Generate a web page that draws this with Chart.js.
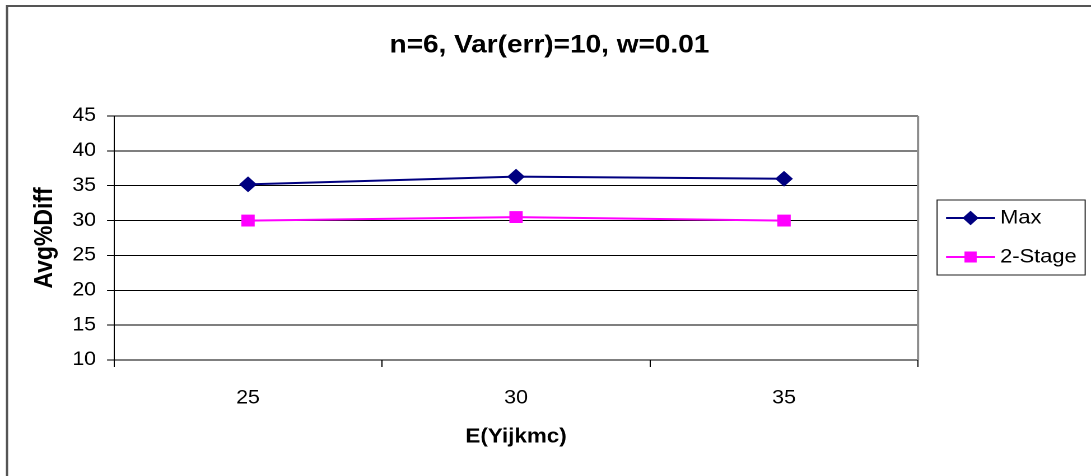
<!DOCTYPE html>
<html>
<head>
<meta charset="utf-8">
<script src="https://cdn.jsdelivr.net/npm/chart.js@4/dist/chart.umd.min.js"></script>
<style>
  html, body { margin: 0; padding: 0; background: #fff; overflow: hidden; }
  #wrap { width: 1091px; height: 476px; overflow: hidden; }
  /* the chart is drawn on a slightly narrower canvas and widened to the page width */
  #c { display: block; transform: scaleX(1.1201); transform-origin: 0 0; }
</style>
</head>
<body>
<div id="wrap"><canvas id="c" width="974" height="476"></canvas></div>
<script>
// Average % difference by E(Yijkmc)
const categories = ['25', '30', '35'];
const maxValues = [35.2, 36.3, 36.0];
const twoStageValues = [30.0, 30.5, 30.0];
const seriesNames = ['Max', '2-Stage'];
const yTicks = [10, 15, 20, 25, 30, 35, 40, 45];

const FONT = 'Liberation Sans, Arial, sans-serif';

// White background, outer frame and the grey right edge of the plot area
const framePlugin = {
  id: 'frame',
  beforeDraw(chart) {
    const { ctx, width, height } = chart;
    ctx.save();
    ctx.fillStyle = '#ffffff';
    ctx.fillRect(0, 0, width, height);
    ctx.strokeStyle = '#555555';
    ctx.lineWidth = 2;
    ctx.strokeRect(6.25, 6, width + 20, height + 20);
    ctx.restore();
  },
  beforeDatasetsDraw(chart) {
    const { ctx, chartArea } = chart;
    ctx.save();
    ctx.strokeStyle = '#8c8c8c';
    ctx.lineWidth = 2;
    ctx.beginPath();
    ctx.moveTo(chartArea.right, chartArea.top);
    ctx.lineTo(chartArea.right, chartArea.bottom);
    ctx.stroke();
    ctx.restore();
  }
};

// Boxed legend with a line-and-marker sample for each series
const boxLegendPlugin = {
  id: 'boxLegend',
  afterDraw(chart) {
    const { ctx, chartArea } = chart;
    const left = chartArea.right + 17;
    const top = 200, w = 132.2, h = 75, rowGap = 39;
    ctx.save();
    ctx.strokeStyle = '#222222';
    ctx.lineWidth = 1;
    ctx.strokeRect(left, top, w, h);
    chart.data.datasets.forEach((ds, i) => {
      const y = top + 18 + i * rowGap;
      const x0 = left + 8, x1 = left + 51.8;
      ctx.strokeStyle = ds.borderColor;
      ctx.lineWidth = 2;
      ctx.beginPath();
      ctx.moveTo(x0, y);
      ctx.lineTo(x1, y);
      ctx.stroke();
      ctx.fillStyle = ds.pointBackgroundColor;
      ctx.strokeStyle = ds.borderColor;
      ctx.lineWidth = 1;
      Chart.helpers.drawPoint(ctx, {
        pointStyle: ds.pointStyle,
        radius: ds.pointRadius,
        rotation: 0,
        borderWidth: 1
      }, (x0 + x1) / 2, y);
      ctx.fillStyle = '#000000';
      ctx.font = '19.5px ' + FONT;
      ctx.textBaseline = 'middle';
      ctx.textAlign = 'left';
      ctx.fillText(ds.label, left + 56.3, y);
    });
    ctx.restore();
  }
};

new Chart(document.getElementById('c'), {
  type: 'line',
  data: {
    labels: categories,
    datasets: [
      {
        label: seriesNames[0],
        data: maxValues,
        borderColor: '#000080',
        backgroundColor: '#000080',
        pointBackgroundColor: '#000080',
        pointBorderColor: '#000080',
        pointStyle: 'rectRot',
        pointRadius: 6.5,
        borderWidth: 2,
        tension: 0
      },
      {
        label: seriesNames[1],
        data: twoStageValues,
        borderColor: '#ff00ff',
        backgroundColor: '#ff00ff',
        pointBackgroundColor: '#ff00ff',
        pointBorderColor: '#ff00ff',
        pointStyle: 'rect',
        pointRadius: 7,
        borderWidth: 2,
        tension: 0
      }
    ]
  },
  options: {
    responsive: false,
    animation: false,
    devicePixelRatio: 2,
    layout: { padding: { left: 7, right: 0, top: 0, bottom: 0 } },
    plugins: {
      legend: { display: false },
      tooltip: { enabled: false },
      title: {
        display: true,
        text: 'n=6, Var(err)=10, w=0.01',
        color: '#000',
        font: { family: FONT, size: 25, weight: 'bold' },
        padding: { top: 30.5, bottom: 55.5 }
      }
    },
    scales: {
      x: {
        offset: true,
        afterFit(scale) { scale.height = 116; },
        grid: {
          display: true,
          drawOnChartArea: false,
          drawTicks: true,
          tickLength: 7,
          offset: true,
          color: '#000'
        },
        border: { display: true, color: '#000', width: 1 },
        ticks: {
          color: '#000',
          padding: 20,
          font: { family: FONT, size: 19 }
        },
        title: {
          display: true,
          text: 'E(Yijkmc)',
          color: '#000',
          font: { family: FONT, size: 20, weight: 'bold' },
          padding: { top: 0, bottom: 27 }
        }
      },
      y: {
        min: 10,
        max: 45,
        afterFit(scale) { scale.width = 94.8; },
        afterBuildTicks(scale) { scale.ticks = yTicks.map(v => ({ value: v })); },
        grid: {
          color: '#000',
          lineWidth: 1,
          drawTicks: true,
          tickLength: 6.25
        },
        border: { display: true, color: '#000', width: 1 },
        ticks: {
          color: '#000',
          padding: 9.85,
          font: { family: FONT, size: 19 }
        },
        title: {
          display: true,
          text: 'Avg%Diff',
          color: '#000',
          font: { family: FONT, size: 23, weight: 'bold' },
          padding: { top: 19.4, bottom: 0 }
        }
      },
      // empty band on the right that holds the legend box
      legendBand: {
        type: 'linear',
        position: 'right',
        display: true,
        afterFit(scale) { scale.width = 154.4; },
        grid: { drawOnChartArea: false, drawTicks: false, display: false },
        border: { display: false },
        ticks: { display: false },
        title: { display: false }
      }
    }
  },
  plugins: [framePlugin, boxLegendPlugin]
});
</script>
</body>
</html>
